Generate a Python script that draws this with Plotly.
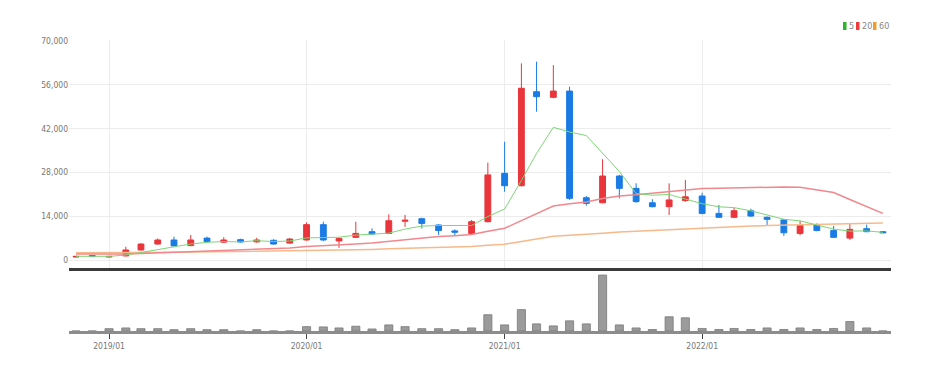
import plotly.graph_objects as go

months = ["2018-11-01", "2018-12-01",
          "2019-01-01", "2019-02-01", "2019-03-01", "2019-04-01", "2019-05-01", "2019-06-01",
          "2019-07-01", "2019-08-01", "2019-09-01", "2019-10-01", "2019-11-01", "2019-12-01",
          "2020-01-01", "2020-02-01", "2020-03-01", "2020-04-01", "2020-05-01", "2020-06-01",
          "2020-07-01", "2020-08-01", "2020-09-01", "2020-10-01", "2020-11-01", "2020-12-01",
          "2021-01-01", "2021-02-01", "2021-03-01", "2021-04-01", "2021-05-01", "2021-06-01",
          "2021-07-01", "2021-08-01", "2021-09-01", "2021-10-01", "2021-11-01", "2021-12-01",
          "2022-01-01", "2022-02-01", "2022-03-01", "2022-04-01", "2022-05-01", "2022-06-01",
          "2022-07-01", "2022-08-01", "2022-09-01", "2022-10-01", "2022-11-01", "2022-12-01"]

open_ = [950, 1400, 950, 1300, 3200, 5100, 6400, 4600, 7000, 5700,
         6500, 5800, 6300, 5400, 6400, 11300, 6100, 7250, 9050, 8500,
         12400, 13200, 11200, 9300, 8500, 12250, 27700, 23750, 53800, 52000,
         54000, 19900, 18300, 26850, 22900, 18300, 17050, 19000, 20450, 14900,
         13650, 15750, 13650, 12800, 8500, 11200, 9400, 7000, 10000, 9050]
high = [1300, 1500, 1250, 4250, 5400, 6900, 7450, 8000, 7450, 7300,
        6800, 7100, 6600, 7000, 12000, 12250, 7200, 12250, 10100, 14600,
        14400, 13500, 11400, 9800, 12800, 31100, 37800, 62850, 63400, 62300,
        55400, 20450, 32200, 27200, 24500, 19400, 24500, 25600, 21500, 17600,
        16600, 16400, 13900, 13100, 12550, 11700, 10900, 11700, 11300, 9200]
low = [850, 1150, 850, 1200, 3000, 4900, 4250, 4400, 5600, 5500,
       5500, 5500, 4900, 5200, 6200, 6000, 3900, 7000, 8000, 8300,
       10600, 10100, 8000, 8000, 8200, 12000, 21800, 23500, 47400, 51700,
       19200, 17350, 18100, 19700, 18300, 16800, 14400, 18600, 14600, 13400,
       13400, 13800, 11200, 7700, 7900, 9200, 7000, 6400, 8900, 8600]
close = [1150, 1250, 1150, 3200, 5100, 6400, 4500, 6400, 5850, 6400,
         5750, 6400, 5100, 6700, 11300, 6400, 6900, 8500, 8300, 12550,
         12700, 11700, 9400, 8900, 12250, 27200, 23750, 54900, 52200, 54000,
         19700, 18100, 26850, 22900, 18650, 17050, 19200, 20200, 14900, 13650,
         15750, 14050, 13000, 8700, 11000, 9400, 7250, 9800, 9050, 8700]

ma5 = [1180, 1190, 1170, 1570, 2350, 3410, 4060, 5120, 5650, 5910,
       5780, 6160, 5900, 6070, 7050, 7180, 7280, 7960, 8280, 8580,
       9880, 10840, 11020, 11140, 11030, 13890, 16300, 25400, 34060, 42410,
       40910, 39780, 34170, 28310, 21240, 20710, 20930, 19600, 18000, 17000,
       16740, 15710, 14270, 13030, 12500, 11230, 9870, 9230, 9300, 8840]
ma20 = [1910, 1870, 1830, 1890, 2050, 2270, 2400, 2620, 2820, 3040,
        3230, 3450, 3610, 3850, 4320, 4540, 4790, 5110, 5430, 5970,
        6560, 7090, 7500, 7790, 8140, 9180, 10150, 12570, 14890, 17270,
        17970, 18550, 19640, 20450, 20820, 21350, 21960, 22550, 22880, 22920,
        23060, 23180, 23360, 23350, 23290, 22400, 21570, 19320, 17160, 14900]
ma60 = [2330, 2310, 2290, 2300, 2350, 2420, 2450, 2520, 2580, 2650,
        2700, 2770, 2820, 2890, 3040, 3110, 3180, 3280, 3380, 3560,
        3730, 3890, 4010, 4120, 4280, 4700, 5050, 5930, 6760, 7620,
        7910, 8170, 8580, 8920, 9190, 9440, 9720, 10020, 10230, 10410,
        10640, 10830, 11010, 11120, 11260, 11380, 11460, 11580, 11700, 11800]

volume = [0, 0, 230000, 300000, 230000, 230000, 130000, 230000, 130000, 130000,
          0, 130000, 0, 0, 430000, 400000, 300000, 470000, 200000, 600000,
          430000, 230000, 230000, 130000, 300000, 1600000, 600000, 2100000, 700000, 500000,
          1000000, 700000, 5500000, 600000, 300000, 150000, 1400000, 1300000, 250000, 150000,
          250000, 150000, 300000, 150000, 300000, 150000, 250000, 930000, 300000, 0]

y_ticks = [0, 14000, 28000, 42000, 56000, 70000]
legend_labels = ["5", "20", "60"]
legend_colors = ["#2cb52c", "#ee3b3b", "#f39a2d"]

UP = "#e9353b"
DOWN = "#1b7be4"
FONT = "DejaVu Sans Condensed, sans-serif"

fig = go.Figure()

fig.add_trace(go.Candlestick(
    x=months, open=open_, high=high, low=low, close=close,
    increasing=dict(line=dict(color=UP, width=1), fillcolor=UP),
    decreasing=dict(line=dict(color=DOWN, width=1), fillcolor=DOWN),
    whiskerwidth=0, showlegend=False, hoverinfo="skip",
    xaxis="x", yaxis="y"))

for vals, col, w in [(ma60, "#f7b98a", 1.5), (ma20, "#f2888d", 1.5), (ma5, "#7dd678", 1)]:
    fig.add_trace(go.Scatter(x=months, y=vals, mode="lines",
                             line=dict(color=col, width=w),
                             showlegend=False, hoverinfo="skip",
                             xaxis="x", yaxis="y"))

fig.add_trace(go.Bar(x=months, y=volume, width=15 * 86400000,
                     marker=dict(color="#9b9b9b", line=dict(color="#7a7a7a", width=0.8)),
                     showlegend=False, hoverinfo="skip",
                     xaxis="x2", yaxis="y2"))

# The page body has an 8px margin, so the figure div starts at (8, 8).
OFF = 8
FIG_W, FIG_H = 934 - OFF, 372 - OFF
# plot area in window pixels: left 69, right 891, top 40, bottom 331
L, R, T, B = 69, 891, 40, 331
W, H = R - L, B - T

def px_x(p):
    return (p - L) / W

def px_y(p):
    return (B - p) / H

xrange_ = ["2018-10-19", "2022-12-16"]

fig.update_layout(
    width=FIG_W, height=FIG_H,
    margin=dict(l=L - OFF, r=FIG_W - (R - OFF), t=T - OFF, b=FIG_H - (B - OFF), autoexpand=False),
    paper_bgcolor="white", plot_bgcolor="white",
    boxgap=0.45,
    font=dict(family=FONT, size=8, color="#777777"),
    xaxis=dict(type="date", range=xrange_, domain=[0, 1], anchor="y",
               dtick="M12", tick0="2019-01-01",
               showgrid=True, gridcolor="#ececec", gridwidth=1,
               showticklabels=False, ticks="",
               showline=True, linecolor="#3a3a3a", linewidth=2.5,
               rangeslider=dict(visible=False), zeroline=False),
    yaxis=dict(domain=[px_y(268), 1], range=[-2557, 70320],
               tickvals=y_ticks, tickformat=",d",
               showgrid=True, gridcolor="#ececec", gridwidth=1,
               zeroline=False, ticks="", showline=False,
               tickfont=dict(family=FONT, size=8.5, color="#777777")),
    xaxis2=dict(type="date", range=xrange_, domain=[0, 1], anchor="y2",
                dtick="M12", tick0="2019-01-01", tickformat="%Y/%m",
                showgrid=False, ticks="outside", ticklen=5, tickcolor="#444444",
                showline=True, linecolor="#8c8c8c", linewidth=2.5,
                tickfont=dict(family=FONT, size=8.5, color="#777777"),
                zeroline=False),
    yaxis2=dict(domain=[0, px_y(272)], range=[0, 5800000],
                showticklabels=False, showgrid=False, zeroline=False,
                showline=False, ticks=""),
)

# legend (top right)
legend_x = [843, 856, 873]
for lx, lab, col in zip(legend_x, legend_labels, legend_colors):
    fig.add_shape(type="rect", xref="paper", yref="paper",
                  x0=px_x(lx), x1=px_x(lx + 3.5), y0=px_y(30), y1=px_y(22),
                  fillcolor=col, line=dict(width=0))
    fig.add_annotation(xref="paper", yref="paper", x=px_x(lx + 3.5), y=px_y(26.5),
                       text=lab, showarrow=False, xanchor="left", yanchor="middle",
                       font=dict(family=FONT, size=9, color="#888888"))

fig.write_html("out.html")
